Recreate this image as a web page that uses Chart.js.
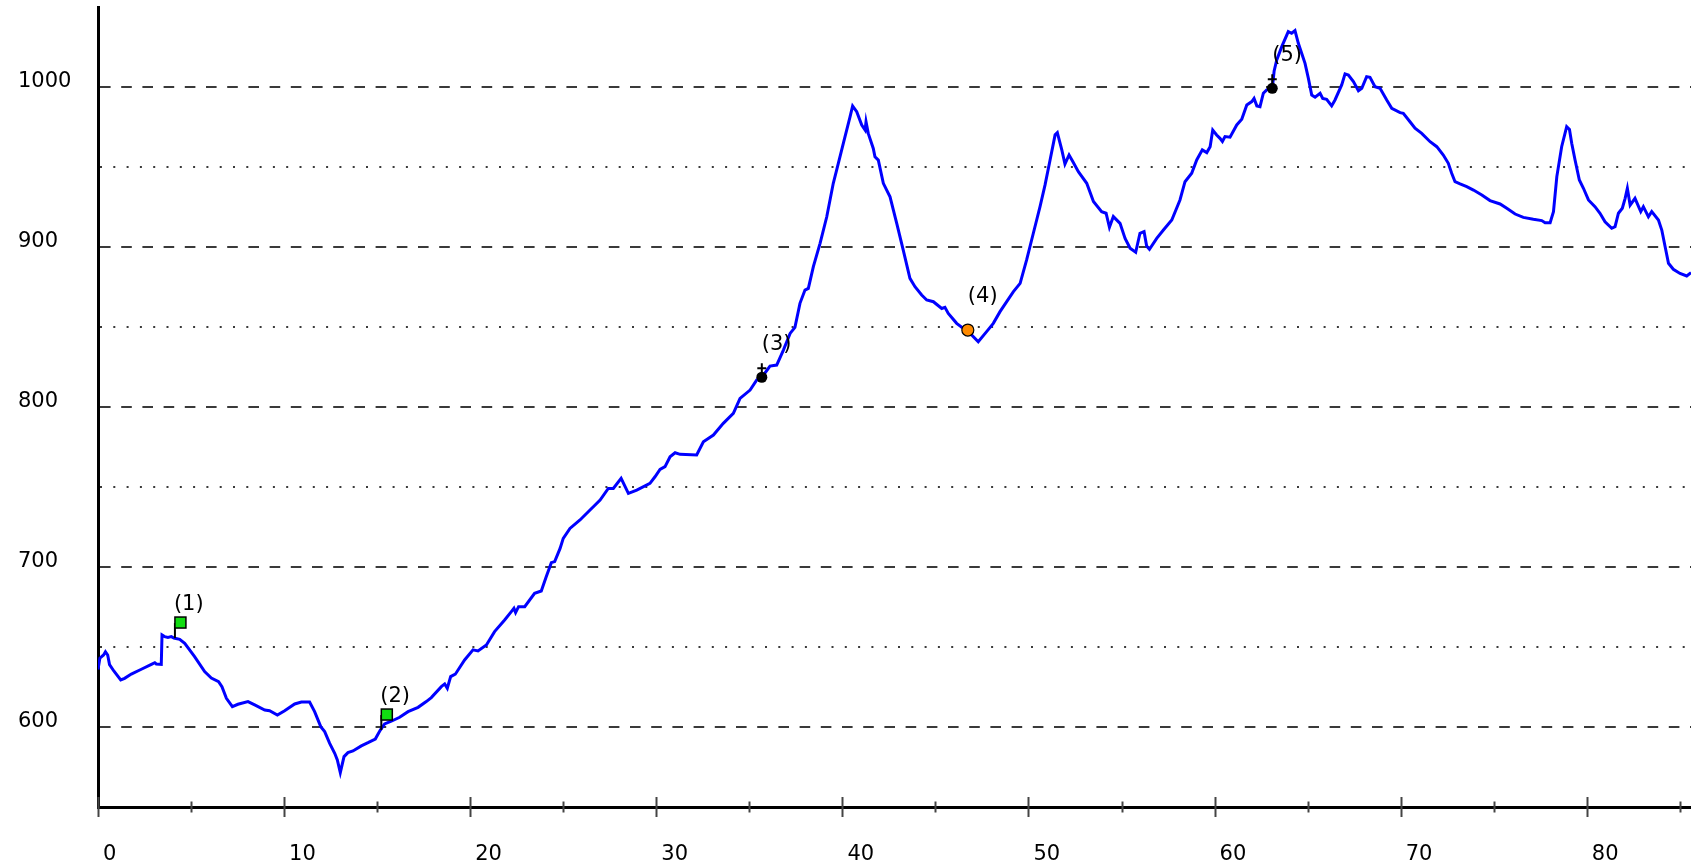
<!DOCTYPE html>
<html>
<head>
<meta charset="utf-8">
<script src="https://cdn.jsdelivr.net/npm/chart.js@4.4.0/dist/chart.umd.min.js"></script>
<style>
  html, body { margin: 0; padding: 0; background: #fff; overflow: hidden; }
  canvas { display: block; }
</style>
</head>
<body>
<canvas id="profile" width="1691" height="866"></canvas>
<script>
// distance along the route (km) and elevation (m)
const distKm = [
  0.00, 0.10, 0.30, 0.40, 0.52, 0.62, 0.85, 1.22, 1.43, 1.79, 2.33, 2.87, 3.05, 3.13, 3.40, 3.44, 3.58, 3.76, 3.94, 4.08,
  4.39, 4.66, 5.19, 5.73, 6.09, 6.48, 6.66, 6.90, 7.22, 7.52, 8.06, 8.42, 8.96, 9.22, 9.64, 10.03, 10.57, 10.93, 11.37, 11.64,
  11.97, 12.18, 12.45, 12.72, 12.86, 13.02, 13.22, 13.43, 13.70, 14.15, 14.51, 14.90, 15.17, 15.40, 15.76, 16.21, 16.66, 17.20, 17.64, 17.91,
  18.45, 18.63, 18.77, 18.95, 19.20, 19.70, 20.15, 20.42, 20.87, 21.31, 21.85, 22.21, 22.35, 22.44, 22.60, 22.93, 23.46, 23.82, 24.09, 24.36,
  24.54, 24.83, 25.00, 25.36, 25.90, 26.44, 26.98, 27.42, 27.69, 28.11, 28.50, 28.95, 29.66, 29.93, 30.20, 30.47, 30.74, 31.01, 31.28, 32.17,
  32.53, 33.07, 33.60, 34.14, 34.50, 35.04, 35.40, 35.67, 36.11, 36.47, 36.83, 37.19, 37.45, 37.72, 37.99, 38.17, 38.44, 38.80, 39.16, 39.51,
  39.69, 40.05, 40.41, 40.55, 40.77, 41.04, 41.22, 41.27, 41.39, 41.66, 41.75, 41.93, 42.20, 42.56, 42.92, 43.27, 43.63, 43.90, 44.26, 44.53,
  44.89, 45.34, 45.51, 45.69, 46.14, 46.50, 46.74, 46.95, 47.30, 47.75, 48.11, 48.47, 48.83, 49.19, 49.55, 49.90, 50.26, 50.62, 50.89, 51.16,
  51.43, 51.55, 51.79, 51.96, 52.18, 52.38, 52.68, 53.13, 53.49, 53.93, 54.17, 54.35, 54.56, 54.92, 55.19, 55.46, 55.76, 55.99, 56.21, 56.35,
  56.50, 56.89, 57.25, 57.70, 58.14, 58.41, 58.77, 59.04, 59.34, 59.58, 59.76, 59.90, 60.11, 60.29, 60.42, 60.56, 60.83, 61.19, 61.46, 61.73,
  62.00, 62.12, 62.27, 62.44, 62.62, 62.80, 63.00, 63.10, 63.20, 63.34, 63.61, 63.96, 64.14, 64.32, 64.50, 64.86, 65.04, 65.22, 65.40, 65.67,
  65.81, 66.02, 66.29, 66.47, 66.83, 67.01, 67.19, 67.46, 67.73, 67.91, 68.17, 68.35, 68.62, 68.89, 69.25, 69.52, 69.97, 70.14, 70.50, 70.77,
  71.13, 71.58, 71.94, 72.29, 72.56, 72.74, 72.92, 73.19, 73.55, 73.91, 74.36, 74.80, 75.34, 75.70, 76.15, 76.59, 77.13, 77.58, 77.76, 78.03,
  78.21, 78.39, 78.65, 78.92, 79.07, 79.19, 79.37, 79.60, 79.82, 80.09, 80.44, 80.71, 80.98, 81.34, 81.52, 81.70, 81.91, 82.06, 82.18, 82.33,
  82.59, 82.90, 83.04, 83.31, 83.49, 83.85, 84.03, 84.21, 84.39, 84.65, 85.01, 85.37, 85.60
];
const elevation = [
  636, 643, 645, 647, 645, 639, 635, 629.4, 630.4, 633.1, 636.1, 639.2, 640.2, 639.4, 639.2, 657.5, 656.5, 656, 656.5, 655.6,
  654.8, 652.3, 644, 634.6, 630.6, 628.4, 625.2, 617.9, 612.7, 614.2, 615.9, 613.8, 610.6, 610.2, 607.5, 610.2, 614.4, 615.6, 615.6, 609.6,
  600.2, 597.1, 589.8, 583.6, 579.4, 571.5, 581.5, 584, 585, 588.2, 590.2, 592.5, 598.1, 601.9, 603.6, 606.1, 609.6, 612.3, 615.9, 618.4,
  625.2, 626.9, 624.2, 631.5, 633, 641.9, 648.2, 647.5, 651.3, 659.6, 666.9, 672.1, 674.2, 671.5, 675.2, 675.2, 683.6, 685, 694, 702.7,
  703.4, 711.6, 717.9, 724.1, 729.4, 735.6, 741.8, 749.1, 749.1, 755.4, 746, 748.1, 752.3, 756.4, 761, 762.7, 768.9, 771.4, 770.4, 770,
  778.3, 782.5, 789.8, 796, 805.4, 810.6, 816.9, 818.6, 825.6, 826.2, 835.6, 846, 849.8, 864.8, 873.1, 874.1, 887.7, 902.3, 918.9, 939.8,
  948.1, 964.8, 981.4, 988.1, 984.6, 976.2, 973.1, 978.3, 971, 961.6, 956.4, 954.3, 939.8, 931.4, 914.8, 898.1, 880.4, 875.2, 870, 866.9,
  865.8, 861.6, 862.3, 858.5, 852.3, 849.1, 848.1, 845, 840.8, 847.1, 852.3, 859.6, 865.9, 872.1, 877.3, 891.9, 908.6, 925.2, 938.8, 954.4,
  970.1, 971.5, 960.7, 951.9, 957.5, 953.4, 947.1, 939.8, 928.4, 922.1, 921.1, 912.3, 919, 914.8, 905.4, 899.2, 896.7, 908.6, 909.6, 900.6,
  898.6, 905.4, 910.6, 916.9, 929.4, 940.8, 946.1, 954.4, 960.7, 959, 962.7, 973.1, 970, 967.9, 965.9, 969, 968.6, 976.3, 979.8, 988.8,
  990.9, 992.9, 988.2, 987.7, 996.1, 998.2, 998.5, 999.2, 1010, 1016.9, 1025.2, 1034.6, 1033.6, 1035.2, 1027.3, 1014.8, 1005.4, 995, 993.6, 996.1,
  992.9, 992.3, 988.2, 991.9, 1001.3, 1008.2, 1007.5, 1003.4, 997.7, 999.2, 1006.5, 1006.1, 1000.2, 999.2, 991.9, 986.7, 984, 983.5, 978.3, 974.2,
  971, 965.8, 962.7, 957.5, 952.3, 946.1, 940.8, 939.4, 937.7, 935.6, 932.5, 929, 926.9, 924.2, 920.6, 918.5, 917.3, 916.5, 915.2, 915.2,
  922.1, 944, 962.7, 975.2, 973.5, 964.8, 954.4, 941.9, 936.7, 929.4, 925.2, 921.1, 915.8, 911.7, 912.7, 921.1, 924.2, 930.4, 936.7, 926.2,
  930.4, 922.1, 925.2, 918.9, 922.1, 916.9, 910.6, 900.2, 889.8, 886.1, 883.5, 881.9, 884
];

// numbered waypoints along the profile
const markerLabels = ['(1)', '(2)', '(3)', '(4)', '(5)'];
const markerKm = [4.08, 15.17, 35.67, 46.74, 63.10];
const markerElev = [655.6, 598.1, 818.6, 848.1, 999.2];
const markerKind = ['flag', 'flag', 'cross', 'pass', 'cross'];

// axes
const yTickLabels = [600, 700, 800, 900, 1000];
const xTickLabels = [0, 10, 20, 30, 40, 50, 60, 70, 80];

const FONT = { family: 'DejaVu Sans', size: 21 };

const profile = distKm.map((d, i) => ({ x: d, y: elevation[i] }));
const stops = markerKm.map((d, i) => ({ x: d, y: markerElev[i] }));

const annotate = {
  id: 'annotate',
  afterDatasetsDraw(chart) {
    const { ctx, scales: { x, y } } = chart;
    const axisY = chart.chartArea.bottom;

    // ticks crossing the x axis line
    ctx.save();
    ctx.strokeStyle = '#444';
    ctx.lineWidth = 2;
    for (let v = 0; v <= x.max; v += 5) {
      const px = Math.round(x.getPixelForValue(v)) + 0.5;
      const h = v % 10 === 0 ? 10 : 5.5;
      ctx.beginPath();
      ctx.moveTo(px, axisY - h);
      ctx.lineTo(px, axisY + h);
      ctx.stroke();
    }
    ctx.restore();

    ctx.save();
    ctx.font = `${FONT.size}px "${FONT.family}"`;
    ctx.textAlign = 'left';
    ctx.textBaseline = 'middle';
    markerKm.forEach((km, i) => {
      const px = x.getPixelForValue(km);
      const py = y.getPixelForValue(markerElev[i]);
      if (markerKind[i] === 'flag') {
        ctx.strokeStyle = '#000';
        ctx.lineWidth = 2;
        ctx.beginPath();
        ctx.moveTo(px + 1, py);
        ctx.lineTo(px + 1, py - 15);
        ctx.stroke();
        ctx.fillStyle = '#11dd11';
        ctx.fillRect(px + 1, py - 21, 11, 11);
        ctx.lineWidth = 1.5;
        ctx.strokeRect(px + 1, py - 21, 11, 11);
      } else if (markerKind[i] === 'cross') {
        ctx.strokeStyle = '#000';
        ctx.lineWidth = 2;
        ctx.beginPath();
        ctx.moveTo(px - 4.5, py - 9);
        ctx.lineTo(px + 4.5, py - 9);
        ctx.moveTo(px, py - 14);
        ctx.lineTo(px, py - 5);
        ctx.stroke();
      }
      ctx.fillStyle = '#000';
      ctx.fillText(markerLabels[i], px, py - 33);
    });
    ctx.restore();
  }
};

new Chart(document.getElementById('profile'), {
  type: 'scatter',
  data: {
    datasets: [
      {
        label: 'stops',
        data: stops,
        order: 0,
        showLine: false,
        pointRadius: markerKind.map(k => k === 'flag' ? 0 : (k === 'pass' ? 6 : 5.5)),
        pointBackgroundColor: markerKind.map(k => k === 'pass' ? '#ff8a00' : '#000'),
        pointBorderColor: '#000',
        pointBorderWidth: markerKind.map(k => k === 'pass' ? 1.2 : 0)
      },
      {
        label: 'elevation',
        data: profile,
        order: 1,
        showLine: true,
        borderColor: '#0000ff',
        borderWidth: 3,
        pointRadius: 0,
        tension: 0
      }
    ]
  },
  options: {
    responsive: false,
    animation: false,
    events: [],
    layout: { autoPadding: false, padding: { top: 7, left: 18, right: 0, bottom: 0 } },
    plugins: { legend: { display: false }, tooltip: { enabled: false } },
    scales: {
      x: {
        type: 'linear',
        min: 0,
        max: 85.6,
        afterFit: s => { s.height = 59; s.paddingLeft = 0; s.paddingRight = 0; },
        grid: { drawOnChartArea: false, drawTicks: true, tickLength: 35, tickColor: 'rgba(0,0,0,0)' },
        border: { display: true, color: '#000', width: 3 },
        ticks: {
          stepSize: 5,
          autoSkip: false,
          includeBounds: false,
          maxRotation: 0,
          align: 'start',
          labelOffset: 5,
          padding: 0,
          color: '#000',
          font: FONT,
          callback: v => xTickLabels.includes(v) ? String(v) : ''
        }
      },
      y: {
        type: 'linear',
        min: 550,
        max: 1050,
        afterFit: s => { s.width = 80; s.paddingTop = 0; s.paddingBottom = 0; },
        grid: {
          drawTicks: false,
          lineWidth: 2,
          color: c => (c.tick && c.tick.value > 550 && c.tick.value < 1050) ? '#3a3a3a' : 'rgba(0,0,0,0)'
        },
        border: {
          display: true,
          color: '#000',
          width: 3,
          dash: c => c.tick ? (c.tick.value % 100 === 0 ? [10.6, 10.6] : [2, 11.3]) : []
        },
        ticks: {
          stepSize: 50,
          autoSkip: false,
          includeBounds: false,
          crossAlign: 'far',
          labelOffset: -5,
          padding: 0,
          color: '#000',
          font: FONT,
          callback: v => yTickLabels.includes(v) ? String(v) : ''
        }
      }
    }
  },
  plugins: [annotate]
});
</script>
</body>
</html>
